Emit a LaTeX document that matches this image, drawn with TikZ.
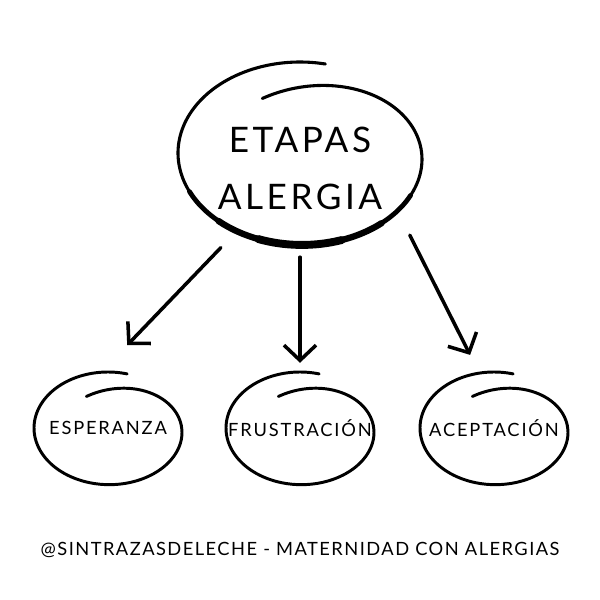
\documentclass[tikz,border=0pt]{standalone}
\usepackage{fontspec}
\newfontfamily\handfont{Lato}[LetterSpace=10]
\newfontfamily\footfont{Lato}[LetterSpace=8]
\usetikzlibrary{shapes.geometric, arrows.meta, positioning}

\begin{document}
\begin{tikzpicture}[
    node distance=1.1cm,
    title/.style={ellipse, minimum width=6.1cm, minimum height=4.55cm, inner sep=0pt, outer sep=0pt},
    stage/.style={ellipse, minimum width=3.7cm, minimum height=2.8cm, inner sep=0pt, outer sep=0pt},
    word/.style={font=\handfont\fontsize{13}{16}\selectfont},
    ring/.style={line width=2.1pt, line cap=round, line join=round},
    arrow/.style={-{Straight Barb[length=3.8mm, width=8mm]}, line width=2.5pt, line cap=round}
]
    \useasboundingbox (0,0) rectangle (15,15);

    % Nodes
    \node[title, label={[font=\handfont\fontsize{25}{40}\selectfont, align=center, yshift=-0.385cm]center:ETAPAS\\ALERGIA}] (top) at (7.5,11.175) {};
    \node[stage, below=3.2cm of top, label={[word]center:FRUSTRACIÓN}] (fru) {};
    \node[stage, left=of fru, label={[word]center:ESPERANZA}] (esp) {};
    \node[stage, right=1.15cm of fru, label={[word]center:ACEPTACIÓN}] (ace) {};
    \node[font=\footfont\fontsize{13}{16}\selectfont] (credit) at (7.5,1.25) {@SINTRAZASDELECHE - MATERNIDAD CON ALERGIAS};

    % Rings
    \draw[ring, line width=2.2pt, shift={(top.center)}]
      plot[smooth, domain=78:468, samples=90, variable=\t] ({3.05*cos(\t)}, {2.275*sin(\t) - 0.8*((\t-78)/390)^5});
    \foreach \w/\a/\b in {3.4/205/335, 4.5/228/312, 5.6/250/290}
      \draw[ring, line width=\w pt, shift={(top.center)}]
        plot[smooth, domain=\a:\b, samples=30, variable=\t] ({3.05*cos(\t)}, {2.275*sin(\t) - 0.8*((\t-78)/390)^5});
    \foreach \n in {esp, fru, ace}
      \draw[ring, shift={(\n.center)}]
        plot[smooth, domain=75:467, samples=80, variable=\t] ({1.85*cos(\t)}, {1.4*sin(\t) - 0.55*((\t-75)/392)^5});

    % Arrows
    \draw[arrow, shorten <=0.58cm, shorten >=0.94cm] (top.231) -- (esp.97);
    \draw[arrow, shorten <=0.33cm, shorten >=0.23cm] (top.south) -- (fru.north);
    \draw[arrow, shorten <=0.74cm, shorten >=0.51cm] (top.330) -- (ace.105);
\end{tikzpicture}
\end{document}
